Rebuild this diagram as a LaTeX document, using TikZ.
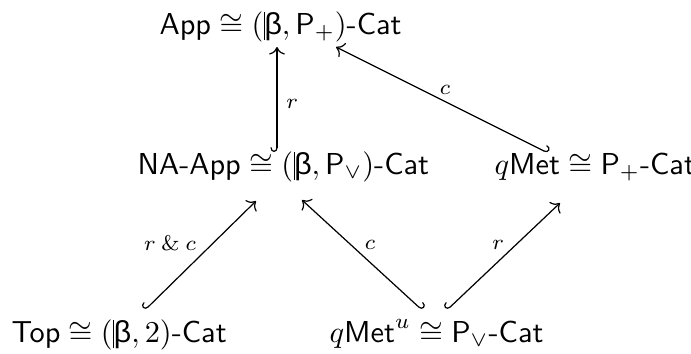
\documentclass[tikz,border=0pt]{standalone}
\usepackage{amsmath,amssymb}
\usepackage{fontspec}
\newfontfamily\bfam{Liberation Sans}
\usetikzlibrary{cd}
\newcommand{\bbeta}{\mathord{\hbox{\bfam\rlap{\kern0.02em\rule[-0.2em]{0.025em}{0.92em}}\kern0.04em β}}}
\tikzset{
  obj/.style={inner sep=0pt, anchor=base west, font=\normalsize},
  lbl/.style={inner sep=0pt, font=\scriptsize},
  harr/.style={line width=0.4pt, {cm right hook}-{cm to}},
  harrl/.style={line width=0.4pt, {cm left hook}-{cm to}}
}
\begin{document}
\begin{tikzpicture}[x=0.33pt, y=-0.33pt]
\useasboundingbox (0,0) rectangle (691,353);
\node[obj] (app) at (159,34) {$\textsf{App}\cong(\bbeta,\textsf{P}_{+})\textsf{-Cat}$};
\node[obj] (na) at (137,174) {$\textsf{NA-App}\cong(\bbeta,\textsf{P}_{\vee})\textsf{-Cat}$};
\node[obj] (qm) at (494,174) {$q\textsf{Met}\cong\textsf{P}_{+}\textsf{-Cat}$};
\node[obj] (top) at (11,342) {$\textsf{Top}\cong(\bbeta,2)\textsf{-Cat}$};
\node[obj] (qmu) at (329,342) {$q\textsf{Met}^{u}\cong\textsf{P}_{\vee}\textsf{-Cat}$};
\coordinate (na-s) at (277,152);
\coordinate (app-t1) at (277,47);
\coordinate (qm-s) at (548,153);
\coordinate (app-t2) at (336,47);
\coordinate (top-s) at (145,310);
\coordinate (na-t1) at (256,201);
\coordinate (qmu-s1) at (422,310);
\coordinate (na-t2) at (302,200);
\coordinate (qmu-s2) at (447,310);
\coordinate (qm-t) at (560,203);
\draw[harr] (na-s) -- (app-t1);
\draw[harrl] (qm-s) -- (app-t2);
\draw[harr] (top-s) -- (na-t1);
\draw[harrl] (qmu-s1) -- (na-t2);
\draw[harr] (qmu-s2) -- (qm-t);
\node[lbl] (l1) at (292,104) {$r$};
\node[lbl] (l2) at (445,90) {$c$};
\node[lbl] (l3) at (170,243) {$r\mathbin{\&}c$};
\node[lbl] (l4) at (370,245) {$c$};
\node[lbl] (l5) at (498,245) {$r$};
\end{tikzpicture}
\end{document}
